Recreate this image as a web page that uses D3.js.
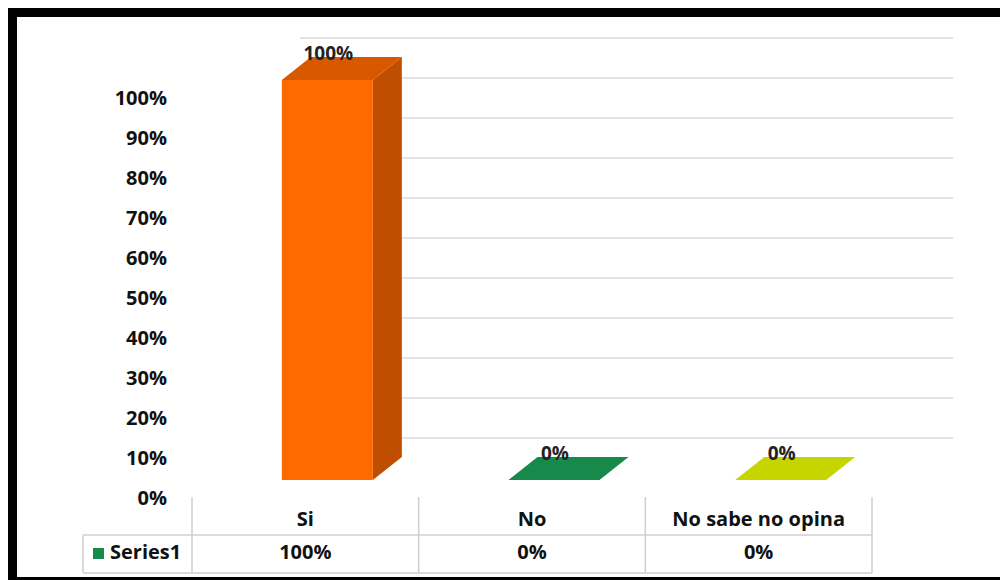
<!DOCTYPE html>
<html>
<head>
    <style>
        body { margin: 0; background: white; }
        text { font-family: "Open Sans", sans-serif; fill: #111; }
    </style>
    <script src="https://d3js.org/d3.v7.min.js"></script>
</head>
<body>
<svg id="chart" width="1000" height="580"></svg>
<script>
    // data
    var categories = ["Si", "No", "No sabe no opina"];
    var values = [1.0, 0, 0];
    var seriesName = "Series1";
    var yTicks = [0, 0.1, 0.2, 0.3, 0.4, 0.5, 0.6, 0.7, 0.8, 0.9, 1.0];

    var front = ["#ff6a00", "#178a4b", "#c6d400"];
    var side = ["#c04e00", "#10703c", "#a3ae00"];
    var top_ = ["#d85800", "#1a7e46", "#b7c400"];

    var svg = d3.select("#chart");
    var fmt = d3.format(".0%");

    // 3D depth offset
    var dx = 29, dy = -23;
    var barW = 91;

    var y = d3.scaleLinear().domain([0, 1]).range([480, 80]);
    var x = d3.scaleBand().domain(categories).range([192, 872]).padding(0);

    // back wall gridlines
    svg.append("g").selectAll("line")
        .data(yTicks)
        .join("line")
        .attr("x1", 300).attr("x2", 953)
        .attr("y1", d => y(d) - 42).attr("y2", d => y(d) - 42)
        .attr("stroke", "#d9d9d9")
        .attr("stroke-width", 1.5);

    // y axis labels
    svg.append("g").selectAll("text")
        .data(yTicks)
        .join("text")
        .attr("x", 167)
        .attr("y", d => y(d) + 20)
        .attr("text-anchor", "end")
        .attr("dominant-baseline", "middle")
        .style("font-size", "20px")
        .style("font-weight", "bold")
        .text(d => fmt(d));

    // 3D bars
    var bars = svg.append("g");
    categories.forEach(function (c, i) {
        var x0 = x(c) + x.bandwidth() / 2 + 22 - barW / 2;
        var x1 = x0 + barW;
        var yb = y(0), yt = y(values[i]);
        if (values[i] > 0) {
            // side
            bars.append("path")
                .attr("d", "M" + x1 + "," + yb + "L" + (x1 + dx) + "," + (yb + dy) +
                    "L" + (x1 + dx) + "," + (yt + dy) + "L" + x1 + "," + yt + "Z")
                .attr("fill", side[i]);
            // front
            bars.append("rect")
                .attr("x", x0).attr("y", yt)
                .attr("width", barW).attr("height", yb - yt)
                .attr("fill", front[i]);
        }
        // top
        bars.append("path")
            .attr("d", "M" + x0 + "," + yt + "L" + x1 + "," + yt + "L" + (x1 + dx) + "," + (yt + dy) +
                "L" + (x0 + dx) + "," + (yt + dy) + "Z")
            .attr("fill", values[i] > 0 ? top_[i] : front[i]);
        // data label
        bars.append("text")
            .attr("x", x0 + barW / 2 + 1)
            .attr("y", yt - 25)
            .attr("text-anchor", "middle")
            .attr("dominant-baseline", "middle")
            .style("font-size", "19px")
            .style("font-weight", "bold")
            .style("fill", "#222")
            .text(fmt(values[i]));
    });

    // data table
    var table = svg.append("g");
    var tStroke = "#cfcfcf";
    var colEdges = [192].concat(categories.map(c => x(c) + x.bandwidth()));
    colEdges.forEach(function (e) {
        table.append("line")
            .attr("x1", e).attr("x2", e)
            .attr("y1", 497).attr("y2", 573)
            .attr("stroke", tStroke).attr("stroke-width", 1.5);
    });
    table.append("line").attr("x1", 83).attr("x2", 872).attr("y1", 535).attr("y2", 535)
        .attr("stroke", tStroke).attr("stroke-width", 1.5);
    table.append("line").attr("x1", 83).attr("x2", 872).attr("y1", 573).attr("y2", 573)
        .attr("stroke", tStroke).attr("stroke-width", 1.5);
    table.append("line").attr("x1", 83).attr("x2", 83).attr("y1", 535).attr("y2", 573)
        .attr("stroke", tStroke).attr("stroke-width", 1.5);

    table.selectAll(".cat")
        .data(categories)
        .join("text")
        .attr("class", "cat")
        .attr("x", d => x(d) + x.bandwidth() / 2)
        .attr("y", 521)
        .attr("text-anchor", "middle")
        .attr("dominant-baseline", "middle")
        .style("font-size", "20px")
        .style("font-weight", "bold")
        .text(d => d);

    table.selectAll(".val")
        .data(values)
        .join("text")
        .attr("class", "val")
        .attr("x", (d, i) => x(categories[i]) + x.bandwidth() / 2)
        .attr("y", 554)
        .attr("text-anchor", "middle")
        .attr("dominant-baseline", "middle")
        .style("font-size", "20px")
        .style("font-weight", "bold")
        .text(d => fmt(d));

    table.append("rect")
        .attr("x", 93).attr("y", 548).attr("width", 11).attr("height", 11)
        .attr("fill", "#178a4b");
    table.append("text")
        .attr("x", 110).attr("y", 554)
        .attr("dominant-baseline", "middle")
        .style("font-size", "20px")
        .style("font-weight", "bold")
        .text(seriesName);

    // frame
    svg.append("rect")
        .attr("x", 12.5).attr("y", 12.5)
        .attr("width", 1000).attr("height", 569)
        .attr("fill", "none")
        .attr("stroke", "#000")
        .attr("stroke-width", 9);
</script>
</body>
</html>
